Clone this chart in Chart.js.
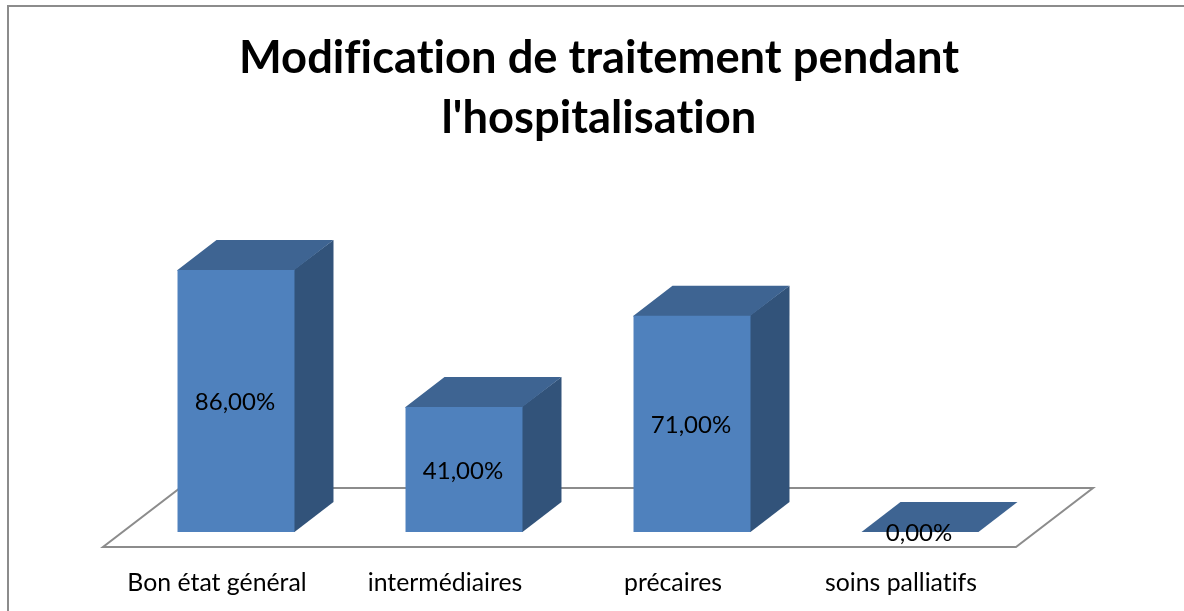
<!DOCTYPE html>
<html lang="fr">
<head>
<meta charset="utf-8">
<style>
html,body{margin:0;padding:0;background:#fff;overflow:hidden}
#wrap{position:relative;width:1184px;height:611px}
canvas{display:block}
</style>
<script src="https://cdn.jsdelivr.net/npm/chart.js@4"></script>
</head>
<body>
<div id="wrap"><canvas id="c" width="1184" height="611"></canvas></div>
<script>
const categories = ["Bon état général", "intermédiaires", "précaires", "soins palliatifs"];
const values = [86, 41, 71, 0];
const valueLabels = ["86,00%", "41,00%", "71,00%", "0,00%"];
const titleLines = ["Modification de traitement pendant", "l'hospitalisation"];

const COL_FRONT = "#4F81BD", COL_TOP = "#3E6492", COL_SIDE = "#32537A", COL_EDGE = "#8C8C8C";
const DX = 39, DY = 30;

function poly(ctx, pts, fill, stroke, lw) {
  ctx.beginPath();
  pts.forEach((p, i) => i ? ctx.lineTo(p[0], p[1]) : ctx.moveTo(p[0], p[1]));
  ctx.closePath();
  if (fill) { ctx.fillStyle = fill; ctx.fill(); }
  if (stroke) { ctx.strokeStyle = stroke; ctx.lineWidth = lw; ctx.stroke(); }
}

const frame3d = {
  id: "frame3d",
  afterLayout(chart) {
    if (chart.titleBlock) chart.titleBlock.left += 42;
  },
  beforeDraw(chart) {
    const ctx = chart.ctx;
    ctx.letterSpacing = "0.01px";
    ctx.save();
    ctx.fillStyle = "#fff";
    ctx.fillRect(0, 0, chart.width, chart.height);
    ctx.strokeStyle = COL_EDGE;
    ctx.lineWidth = 2;
    ctx.beginPath();
    ctx.moveTo(8, chart.height);
    ctx.lineTo(8, 6);
    ctx.lineTo(chart.width, 6);
    ctx.stroke();
    ctx.restore();
  },
  beforeDatasetsDraw(chart) {
    const ctx = chart.ctx, x = chart.scales.x, y0 = chart.scales.y.getPixelForValue(0);
    const fy = y0 + 15, l = x.left - 19, r = x.right - 18;
    ctx.save();
    poly(ctx, [[l, fy], [r, fy], [r + 77, fy - 59], [l + 77, fy - 59]], "#fff", COL_EDGE, 2);
    ctx.restore();
    const meta = chart.getDatasetMeta(0);
    ctx.save();
    meta.data.forEach(b => {
      const L = b.x - b.width / 2, R = b.x + b.width / 2;
      if (b.base - b.y > 0.5) {
        poly(ctx, [[R - 1, b.y], [R + DX, b.y - DY], [R + DX, b.base - DY], [R, b.base], [R - 1, b.base]], COL_SIDE);
        poly(ctx, [[L, b.y + 1], [L, b.y], [L + DX, b.y - DY], [R + DX, b.y - DY], [R, b.y], [R, b.y + 1]], COL_TOP);
      } else {
        poly(ctx, [[L, b.y], [L + DX, b.y - DY], [R + DX, b.y - DY], [R, b.y]], COL_TOP);
      }
    });
    ctx.restore();
  },
  afterDatasetsDraw(chart) {
    const ctx = chart.ctx, meta = chart.getDatasetMeta(0);
    ctx.save();
    ctx.font = '24px Lato';
    ctx.fillStyle = "#000";
    ctx.textAlign = "center";
    ctx.textBaseline = "middle";
    meta.data.forEach((b, i) => {
      ctx.fillText(valueLabels[i], b.x - 1, (b.y + b.base) / 2 + 1.5);
    });
    ctx.restore();
  }
};

new Chart(document.getElementById("c"), {
  type: "bar",
  data: {
    labels: categories,
    datasets: [{
      data: values,
      backgroundColor: COL_FRONT,
      borderWidth: 0,
      barPercentage: 0.513,
      categoryPercentage: 1
    }]
  },
  options: {
    responsive: false,
    animation: false,
    layout: { padding: { left: 122, right: 150, top: 0, bottom: 0 } },
    plugins: {
      legend: { display: false },
      tooltip: { enabled: false },
      title: {
        display: true,
        text: titleLines,
        color: "#000",
        font: { family: "Lato", size: 45.3, weight: "bold", lineHeight: 1.31 },
        padding: { top: 29, bottom: 79.7 }
      }
    },
    scales: {
      y: { display: false, min: 0, max: 100 },
      x: {
        afterFit(s) { s.height = 79; },
        grid: { display: false },
        border: { display: false },
        ticks: {
          color: "#000",
          font: { family: "Lato", size: 24.8 },
          padding: 28,
          labelOffset: -19,
          maxRotation: 0,
          autoSkip: false
        }
      }
    }
  },
  plugins: [frame3d]
});
</script>
</body>
</html>
